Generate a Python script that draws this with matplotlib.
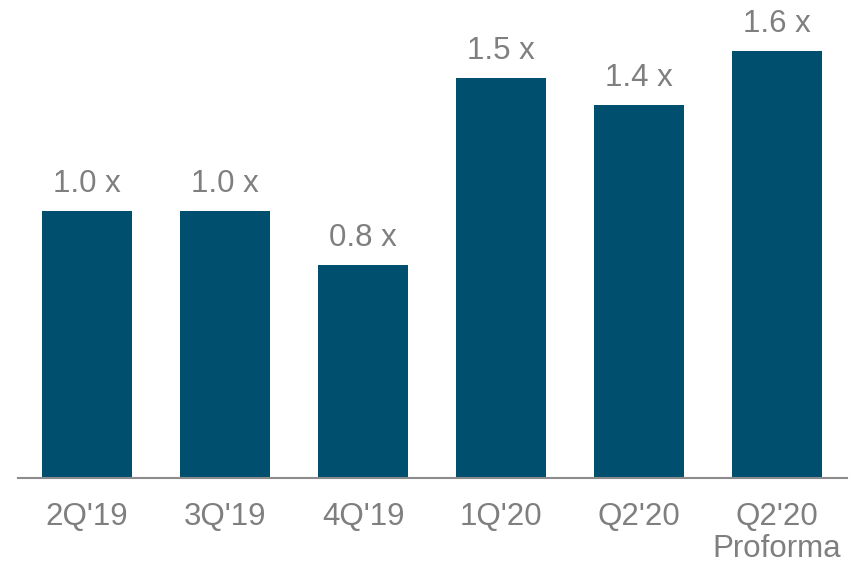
import matplotlib
matplotlib.use("Agg")
import matplotlib.pyplot as plt

plt.rcParams['font.family'] = ['Liberation Sans', 'DejaVu Sans']

# data
categories = ["2Q'19", "3Q'19", "4Q'19", "1Q'20", "Q2'20", "Q2'20\nProforma"]
values = [1.0, 1.0, 0.8, 1.5, 1.4, 1.6]
value_labels = ["1.0 x", "1.0 x", "0.8 x", "1.5 x", "1.4 x", "1.6 x"]

BAR_COLOR = '#004F6E'
TEXT_COLOR = '#7F7F7F'
AXIS_COLOR = '#8C8C8C'

fig = plt.figure(figsize=(8.55, 5.67), dpi=100)
ax = fig.add_axes([18 / 855, 89 / 567, 829 / 855, 478 / 567])

x = range(len(categories))
bars = ax.bar(x, values, width=0.652, color=BAR_COLOR)

for bar, lab in zip(bars, value_labels):
    ax.annotate(lab, (bar.get_x() + bar.get_width() / 2, bar.get_height()),
                xytext=(0, 13.7), textcoords='offset points',
                ha='center', va='baseline', fontsize=22.5, color=TEXT_COLOR)

ax.set_xlim(-0.5, 5.507)
ax.set_ylim(0, 1.792)

ax.set_xticks(list(x))
ax.set_xticklabels(categories, fontsize=22.5, color=TEXT_COLOR, linespacing=1.1)
ax.tick_params(axis='x', length=0, pad=17)
ax.set_yticks([])

for side in ['top', 'right', 'left']:
    ax.spines[side].set_visible(False)
ax.spines['bottom'].set_color(AXIS_COLOR)
ax.spines['bottom'].set_linewidth(1.5)

fig.savefig('out.png', dpi=100)
plt.close()
